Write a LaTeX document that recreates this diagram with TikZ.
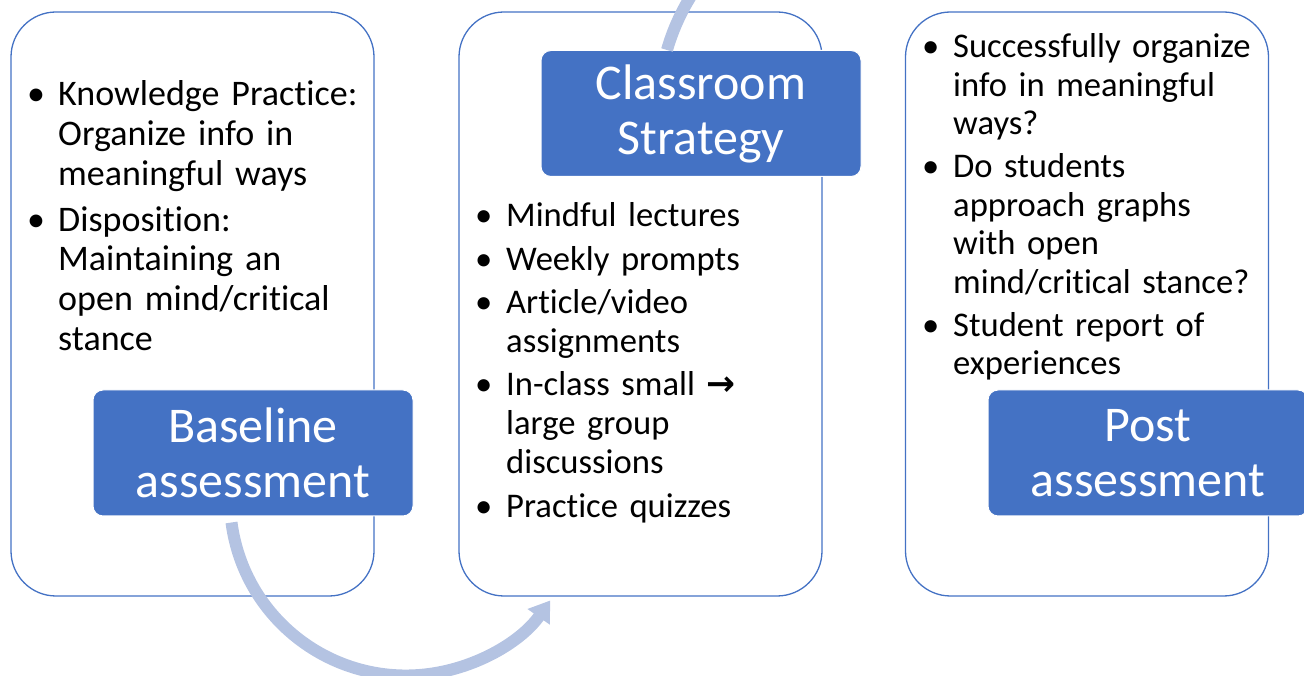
\documentclass[tikz,border=0pt]{standalone}
\usepackage{fontspec}
\setmainfont{Carlito}[Ligatures=NoCommon]
\newfontfamily\symfont{DejaVu Sans}
\usetikzlibrary{arrows.meta}
\definecolor{ink}{HTML}{000000}
\definecolor{accent}{HTML}{4472C4}
\definecolor{pale}{HTML}{B4C3E2}
\newcommand{\bitem}[1]{\hangindent=28pt\hangafter=1\noindent
  \makebox[28pt][l]{\hspace{-3pt}\textbullet}#1\par}

\begin{document}
\begin{tikzpicture}[x=1pt,y=1pt,text=ink,
  outerbox/.style={draw=accent,line width=1.3pt,rounded corners=45pt,
    minimum width=363pt,minimum height=584pt,inner sep=0pt},
  titlebox/.style={fill=accent,draw=white,line width=1pt,rounded corners=10pt,
    minimum width=320pt,minimum height=126pt,inner sep=0pt,text=white,
    align=center,font=\fontsize{50}{55}\selectfont},
  bullets/.style={anchor=base west,inner sep=0pt,text width=345pt,align=left,
    font=\fontsize{34.6}{39}\selectfont},
  flow/.style={pale,line width=12pt,-{Triangle[width=26pt,length=20pt]}}]

  \useasboundingbox (0,0) rectangle (1304,675);
  \clip (0,0) rectangle (1304,675);

  % stage frames
  \foreach \nm/\x in {basebox/192.5,stratbox/640.5,postbox/1087}
    \node[outerbox] (\nm) at (\x,371) {};

  % headings
  \foreach \nm/\x/\y/\txt in {base/253/222/Baseline\\assessment,
      strat/701/561.5/Classroom\\Strategy,post/1148/222/Post\\assessment}
    \node[titlebox] (\nm) at (\x,\y) {\txt};

  % bullet lists
  \node[bullets,font=\fontsize{36}{39.7}\selectfont] (baselist) at (30,569)
    {\setlength{\parskip}{6pt}%
     \bitem{Knowledge Practice:\newline Organize info in\newline meaningful ways}
     \bitem{Disposition:\newline Maintaining an\newline open mind/critical\newline stance}};
  \node[bullets] (stratlist) at (478,448)
    {\setlength{\parskip}{4.3pt}%
     \bitem{Mindful lectures}
     \bitem{Weekly prompts}
     \bitem{Article/video\newline assignments}
     \bitem{In-class small {\symfont\bfseries →}\newline large group\newline discussions}
     \bitem{Practice quizzes}};
  \node[bullets,font=\fontsize{34.6}{38.5}\selectfont] (postlist) at (925,617)
    {\setlength{\parskip}{4.5pt}%
     \bitem{Successfully organize\newline info in meaningful\newline ways?}
     \bitem{Do students\newline approach graphs\newline with open\newline mind/critical stance?}
     \bitem{Student report of\newline experiences}};

  % cycle arrows
  \draw[flow] ([xshift=-21.5pt,yshift=-6pt]base.south)
    arc[start angle=187.5,end angle=325,radius=176];
  \draw[flow] ([xshift=-34pt]strat.north)
    arc[start angle=164,end angle=32.5,radius=211];
\end{tikzpicture}
\end{document}
